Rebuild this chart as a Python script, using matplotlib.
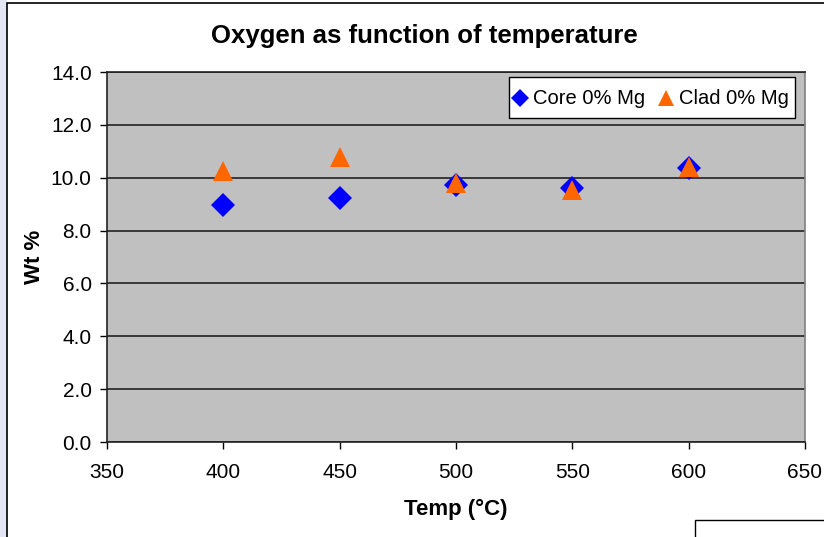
import matplotlib
matplotlib.use('agg')

import matplotlib.pyplot as plt
from matplotlib.legend_handler import HandlerLine2D
from matplotlib.lines import Line2D
from matplotlib.patches import Rectangle

plt.rcParams['font.family'] = ['Liberation Sans', 'DejaVu Sans']

# data
temps = [400, 450, 500, 550, 600]
core_wt = [8.95, 9.23, 9.73, 9.6, 10.35]
clad_wt = [10.25, 10.78, 9.8, 9.53, 10.4]

x_ticks = [350, 400, 450, 500, 550, 600, 650]
y_ticks = [0, 2, 4, 6, 8, 10, 12, 14]

HANDLE_H = 1.8


class CenteredMarker(HandlerLine2D):
    # tall legend row, but keep the marker level with the text
    def create_artists(self, legend, orig_handle, xdescent, ydescent,
                       width, height, fontsize, trans):
        return super().create_artists(legend, orig_handle, xdescent, ydescent,
                                      width, height * 1.25 / HANDLE_H,
                                      fontsize, trans)


W, H = 824, 537
fig = plt.figure(figsize=(W / 100, H / 100), dpi=100)
fig.patch.set_facecolor('white')

# strip of page background at the left and the chart frame
fig.patches.append(Rectangle((0, 0), 7 / W, 1, transform=fig.transFigure,
                             facecolor='#e4e6f4', edgecolor='none', zorder=0))
fig.patches.append(Rectangle((7 / W, -0.1), 1.2, 1 - 3 / H + 0.1,
                             transform=fig.transFigure, facecolor='none',
                             edgecolor='black', linewidth=1.2, zorder=1))
fig.patches.append(Rectangle((695 / W, -0.1), 0.3, (537 - 520) / H + 0.1,
                             transform=fig.transFigure, facecolor='white',
                             edgecolor='black', linewidth=1.0, zorder=1))

ax = fig.add_axes([107 / W, 1 - 442 / H, (805 - 107) / W, (442 - 72) / H])
ax.set_facecolor('#c0c0c0')

ax.plot(temps, core_wt, linestyle='none', marker='D', markersize=12.5,
        color='#0000ff', markeredgewidth=0, zorder=3)
ax.plot(temps, clad_wt, linestyle='none', marker='^', markersize=15,
        color='#ff6600', markeredgewidth=0, zorder=4)

ax.set_xlim(350, 650)
ax.set_ylim(0, 14)
ax.set_xticks(x_ticks)
ax.set_yticks(y_ticks)
ax.set_yticklabels([f'{v:.1f}' for v in y_ticks])
ax.yaxis.grid(True, color='#222222', linewidth=1.2)
ax.set_axisbelow(True)
ax.tick_params(axis='both', direction='out', length=5, width=1,
               labelsize=15, colors='black')
ax.tick_params(axis='x', pad=10)
ax.tick_params(axis='y', pad=6)

for side in ['left', 'bottom', 'top']:
    ax.spines[side].set_color('#222222')
    ax.spines[side].set_linewidth(1.2)
ax.spines['right'].set_color('#808080')
ax.spines['right'].set_linewidth(1.2)

ax.set_xlabel('Temp (°C)', fontsize=16, fontweight='bold', labelpad=12)
ax.set_ylabel('Wt %', fontsize=16, fontweight='bold', labelpad=4)
fig.text(424 / W, 1 - 36 / H, 'Oxygen as function of temperature',
         ha='center', va='center', fontsize=18.5, fontweight='bold')

handles = [
    Line2D([], [], linestyle='none', marker='D', markersize=9,
           color='#0000ff', markeredgewidth=0),
    Line2D([], [], linestyle='none', marker='^', markersize=12,
           color='#ff6600', markeredgewidth=0),
]
leg = ax.legend(handles, ['Core 0% Mg', 'Clad 0% Mg'], ncol=2,
                loc='upper right', bbox_to_anchor=(0.9857, 0.9865),
                fontsize=14.5, frameon=True, fancybox=False,
                handler_map={Line2D: CenteredMarker()},
                handlelength=0.5, handleheight=HANDLE_H, handletextpad=0.4,
                columnspacing=0.8, borderpad=0.3, borderaxespad=0)
leg.get_frame().set_edgecolor('black')
leg.get_frame().set_linewidth(1.0)
leg.get_frame().set_facecolor('white')
leg.get_frame().set_alpha(1)

fig.savefig('out.png', dpi=100)
plt.close(fig)
